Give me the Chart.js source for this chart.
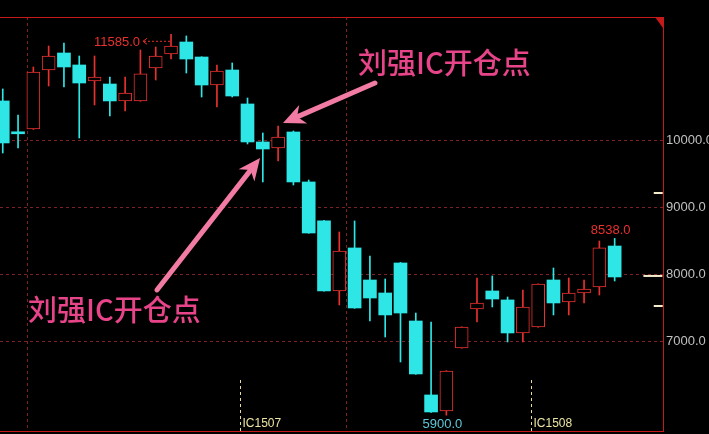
<!DOCTYPE html>
<html>
<head>
<meta charset="utf-8">
<script src="https://cdn.jsdelivr.net/npm/chart.js@4/dist/chart.umd.min.js"></script>
<style>
  html, body { margin: 0; background: #000; }
  #wrap { width: 709px; height: 434px; position: relative; }
</style>
</head>
<body>
<div id="wrap"><canvas id="chart"></canvas></div>
<script>
const opens  = [10590, 10115, 10172, 11052, 11306, 11127, 10888, 10843, 10590, 10590, 11082, 11291, 11470, 11246, 10828, 11052, 10545, 9978, 9888, 10127, 9381, 8799, 7754, 8396, 7918, 7724, 8172, 7306, 6202, 5963, 6903, 7485, 7754, 7620, 7127, 7216, 7918, 7590, 7724, 7813, 8425];
const highs  = [10769, 10381, 11097, 11410, 11455, 11261, 11261, 10948, 10948, 11351, 11395, 11585, 11560, 11250, 11127, 11157, 10634, 10112, 10216, 10142, 9410, 8810, 8634, 8799, 8276, 7933, 8180, 7425, 7291, 6565, 7220, 7948, 7978, 7664, 7769, 7860, 8097, 7948, 7918, 8500, 8538];
const lows   = [9813, 9888, 10165, 10813, 10799, 10037, 10530, 10366, 10440, 10585, 10903, 11216, 11007, 10649, 10500, 10649, 9948, 9381, 9694, 9336, 8615, 7750, 7545, 7495, 7306, 7067, 6694, 6510, 5940, 5900, 6900, 7291, 7515, 6993, 6993, 7212, 7396, 7396, 7575, 7694, 7903];
const closes = [9963, 10100, 11022, 11261, 11097, 10858, 10948, 10590, 10709, 10993, 11261, 11410, 11216, 10828, 11037, 10664, 9978, 9873, 10052, 9381, 8619, 7754, 8351, 7500, 7649, 7396, 7425, 6515, 5948, 6560, 7216, 7575, 7634, 7127, 7515, 7858, 7575, 7724, 7784, 8396, 7963];

const yTicks = [7000, 8000, 9000, 10000];
const contracts = ['IC1507', 'IC1508'];
const contractAt = [15.5, 34.5];
const sideMarks = [9216, 7978, 7530];

const noteText = '刘强IC开仓点';
// arrow tip / tail / text anchor, in (bar index, price)
const notes = [
  { tip: [18.32, 10261], tail: [24.33, 10858], text: [23.22, 11157] },
  { tip: [16.82, 9739], tail: [10.08, 7769], text: [1.65, 7470] }
];

const UP = '#e8302f';
const DOWN = '#2ee6e6';
const GRID = '#7d2222';
const FRAME = '#c41a1a';
const PINK = '#f27ba3';

const idx = opens.map((_, i) => i);
const isUp = i => closes[i] >= opens[i];

const noPad = s => { s.paddingLeft = 0; s.paddingRight = 0; s.paddingTop = 0; s.paddingBottom = 0; };

const overlay = {
  id: 'overlay',
  afterDatasetsDraw(chart) {
    const { ctx, chartArea: a, scales: { x, y } } = chart;
    ctx.save();

    ctx.strokeStyle = FRAME;
    ctx.lineWidth = 1;
    ctx.beginPath();
    ctx.moveTo(a.left, a.top + 0.5);
    ctx.lineTo(a.right, a.top + 0.5);
    ctx.stroke();
    ctx.fillStyle = FRAME;
    ctx.beginPath();
    ctx.moveTo(a.right - 8, a.top);
    ctx.lineTo(a.right, a.top);
    ctx.lineTo(a.right, a.top + 11);
    ctx.closePath();
    ctx.fill();

    // contract switch markers
    ctx.font = '12px "Liberation Sans", Arial, sans-serif';
    ctx.textBaseline = 'middle';
    ctx.textAlign = 'left';
    ctx.strokeStyle = '#e6dc96';
    ctx.fillStyle = '#ece4a4';
    ctx.setLineDash([3, 3]);
    contracts.forEach((name, k) => {
      const px = Math.round(x.getPixelForValue(contractAt[k])) + 0.5;
      ctx.beginPath();
      ctx.moveTo(px, a.bottom - 51);
      ctx.lineTo(px, a.bottom);
      ctx.stroke();
      ctx.fillText(name, px + 2, a.bottom - 7);
    });
    ctx.setLineDash([]);

    // high / low price labels
    ctx.font = '13px "Liberation Sans", Arial, sans-serif';
    const hiI = highs.indexOf(Math.max(...highs));
    const loI = lows.indexOf(Math.min(...lows));
    const lastI = highs.length - 1;

    let cx = x.getPixelForValue(hiI), cy = y.getPixelForValue(highs[hiI]) + 8;
    ctx.fillStyle = UP;
    ctx.strokeStyle = UP;
    ctx.textAlign = 'right';
    ctx.fillText(highs[hiI].toFixed(1), cx - 31, cy);
    ctx.setLineDash([2, 2]);
    ctx.beginPath();
    ctx.moveTo(cx - 1, cy - 1);
    ctx.lineTo(cx - 28, cy - 1);
    ctx.stroke();
    ctx.setLineDash([]);
    ctx.beginPath();
    ctx.moveTo(cx - 24, cy - 4);
    ctx.lineTo(cx - 28, cy - 1);
    ctx.lineTo(cx - 24, cy + 2);
    ctx.stroke();

    ctx.textAlign = 'center';
    ctx.fillText(highs[lastI].toFixed(1), x.getPixelForValue(lastI) - 4, y.getPixelForValue(highs[lastI]) - 8);
    ctx.fillStyle = '#5cc8d8';
    ctx.fillText(lows[loI].toFixed(1), x.getPixelForValue(loI) - 4, y.getPixelForValue(lows[loI]) + 9);

    // annotations
    notes.forEach(n => {
      const tx = x.getPixelForValue(n.tail[0]), ty = y.getPixelForValue(n.tail[1]);
      const hx = x.getPixelForValue(n.tip[0]), hy = y.getPixelForValue(n.tip[1]);
      const ang = Math.atan2(hy - ty, hx - tx);
      const cos = Math.cos(ang), sin = Math.sin(ang);
      const head = 22, half = 10;
      ctx.strokeStyle = PINK;
      ctx.fillStyle = PINK;
      ctx.lineWidth = 5;
      ctx.lineCap = 'round';
      ctx.beginPath();
      ctx.moveTo(tx, ty);
      ctx.lineTo(hx - cos * head * 0.7, hy - sin * head * 0.7);
      ctx.stroke();
      ctx.beginPath();
      ctx.moveTo(hx, hy);
      ctx.lineTo(hx - cos * head - sin * half, hy - sin * head + cos * half);
      ctx.lineTo(hx - cos * head * 0.7, hy - sin * head * 0.7);
      ctx.lineTo(hx - cos * head + sin * half, hy - sin * head - cos * half);
      ctx.closePath();
      ctx.fill();

      ctx.font = '500 29px "Noto Sans CJK SC", sans-serif';
      ctx.fillStyle = '#e8448a';
      ctx.textAlign = 'left';
      ctx.fillText(noteText, x.getPixelForValue(n.text[0]), y.getPixelForValue(n.text[1]));
    });

    ctx.restore();
  }
};

new Chart(document.getElementById('chart'), {
  type: 'bar',
  data: {
    datasets: [
      {
        label: 'body',
        data: idx.map(i => ({ x: i, y: [Math.min(opens[i], closes[i]), Math.max(opens[i], closes[i])] })),
        backgroundColor: idx.map(i => isUp(i) ? '#000' : DOWN),
        borderColor: idx.map(i => isUp(i) ? UP : DOWN),
        borderWidth: idx.map(i => isUp(i) ? 1 : 0),
        borderSkipped: false,
        barThickness: 13,
        minBarLength: 2,
        grouped: false,
        order: 0
      },
      {
        label: 'wick',
        data: idx.map(i => ({ x: i, y: [lows[i], highs[i]] })),
        backgroundColor: idx.map(i => isUp(i) ? UP : DOWN),
        barThickness: 1,
        grouped: false,
        order: 1
      },
      {
        type: 'line',
        label: 'marks',
        data: sideMarks.map((v, k) => ({ x: k === 1 ? 42.5 : 42.85, y: v })),
        showLine: false,
        pointStyle: 'line',
        pointRadius: sideMarks.map((_, k) => k === 1 ? 9.5 : 4.5),
        pointBorderColor: '#f2eccc',
        pointBorderWidth: 2,
        order: 2
      }
    ]
  },
  options: {
    responsive: true,
    maintainAspectRatio: false,
    animation: false,
    layout: { autoPadding: false, padding: { top: 17, bottom: 3, left: 0, right: 0 } },
    plugins: { legend: { display: false }, tooltip: { enabled: false } },
    scales: {
      x: {
        type: 'linear',
        offset: false,
        min: -0.18,
        max: 43.16,
        afterBuildTicks: s => { s.ticks = [{ value: 1.59 }, { value: 22.5 }]; },
        afterFit: s => { s.height = 0; noPad(s); },
        ticks: { display: false },
        grid: { color: GRID, drawTicks: false, offset: false },
        border: { color: FRAME, dash: [3, 3] }
      },
      y: {
        position: 'right',
        min: 5664,
        max: 11843,
        afterBuildTicks: s => { s.ticks = yTicks.map(v => ({ value: v })); },
        afterFit: s => { s.width = 46; noPad(s); },
        ticks: {
          color: '#c0c0c0',
          padding: 3,
          font: { size: 13, family: '"Liberation Sans", Arial, sans-serif' },
          callback: v => Number(v).toFixed(1)
        },
        grid: { color: GRID, drawTicks: false },
        border: { color: FRAME, dash: [3, 3] }
      }
    }
  },
  plugins: [overlay]
});
</script>
</body>
</html>
